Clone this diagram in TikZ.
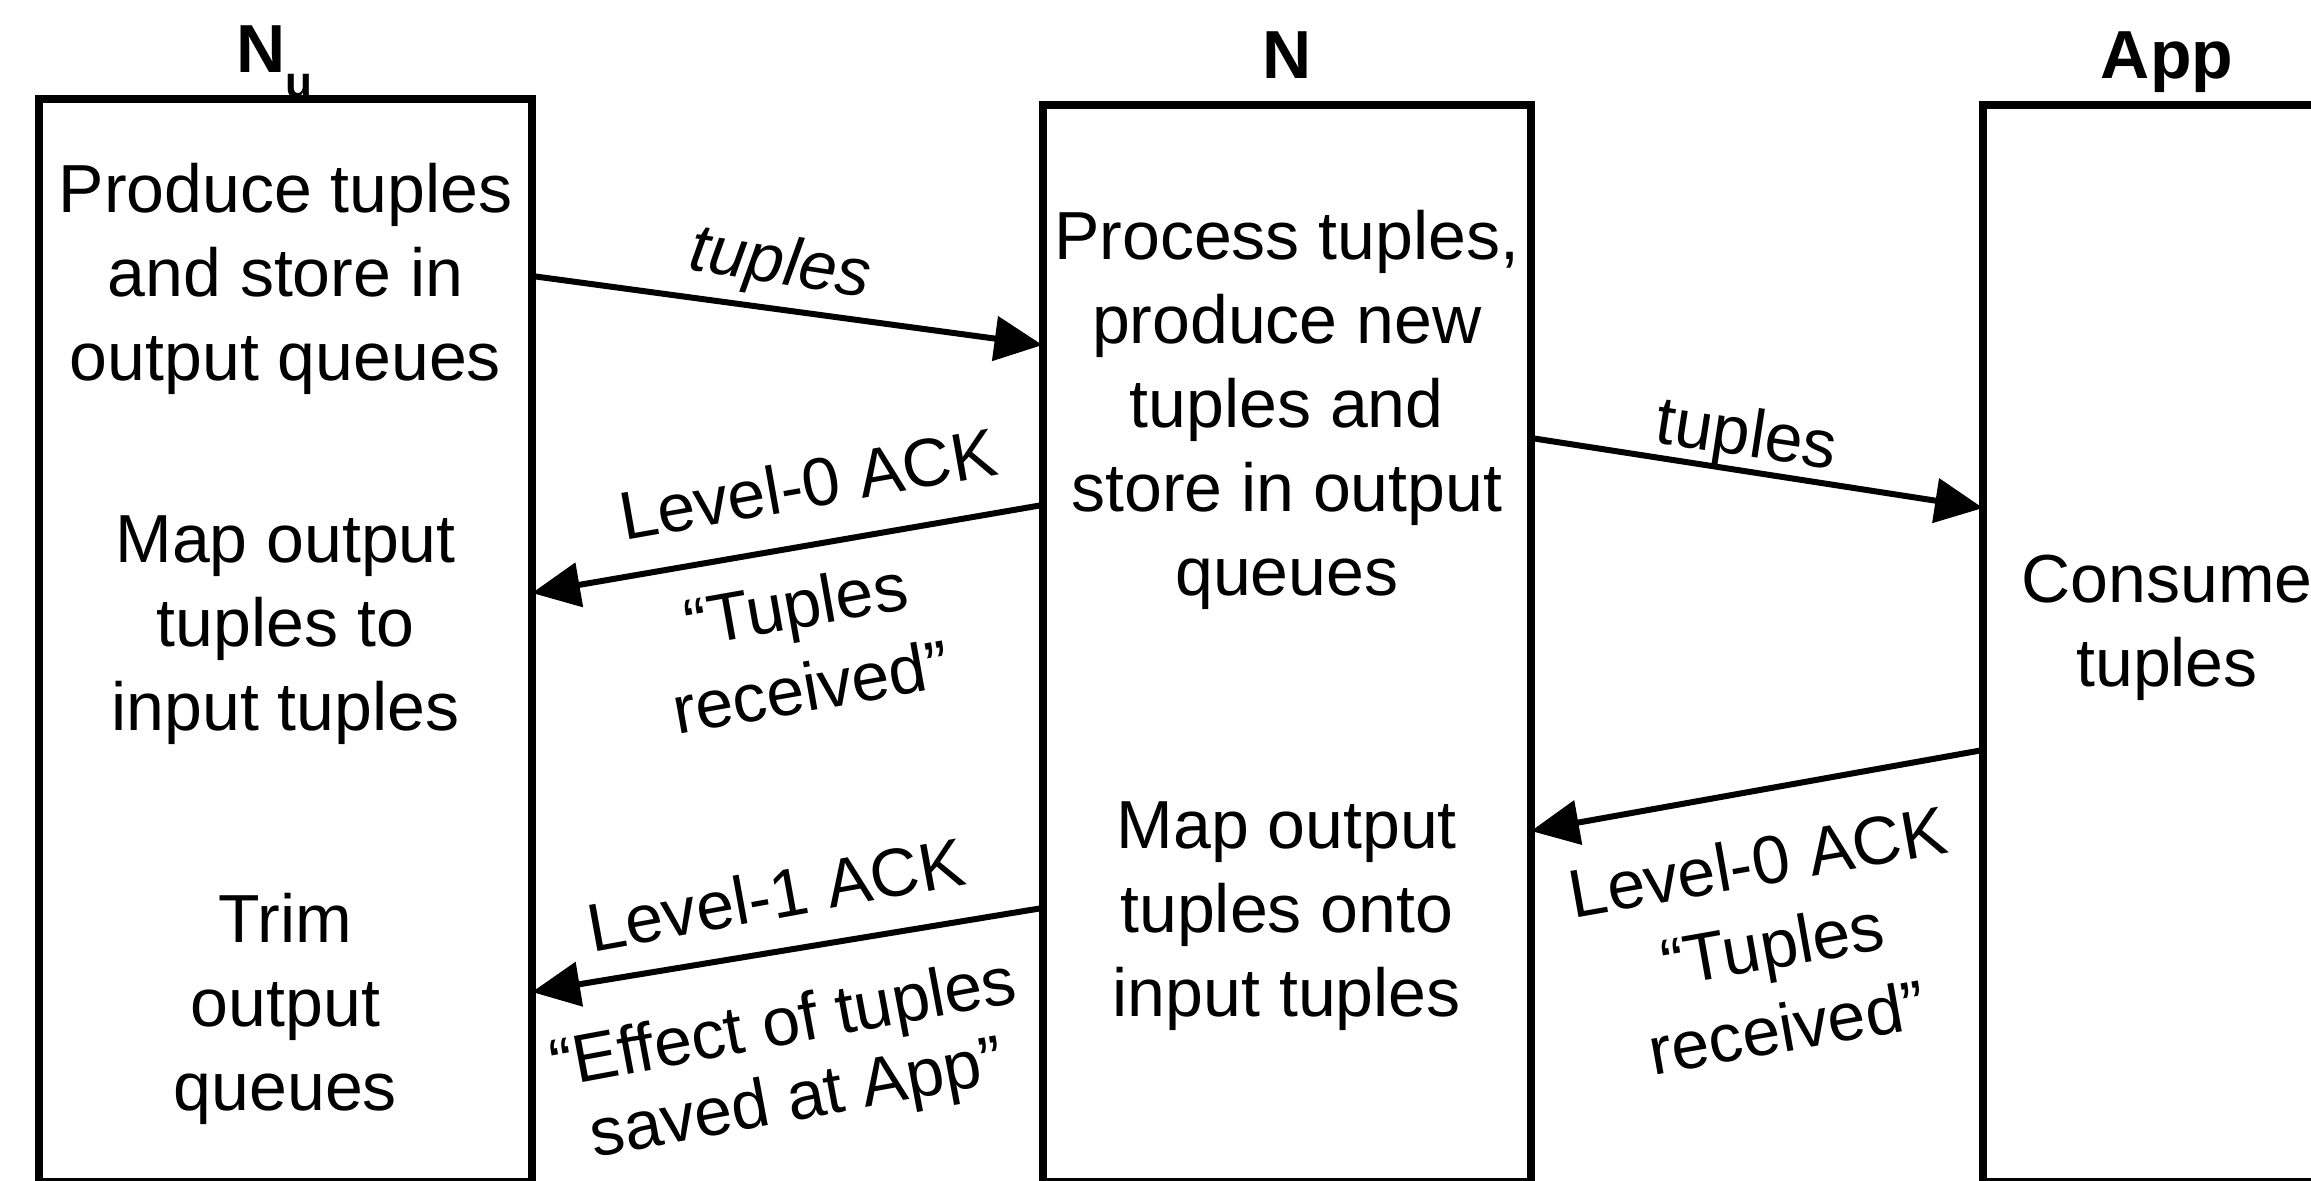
\documentclass[tikz,border=0pt]{standalone}
\usepackage{fontspec}
\setmainfont{Liberation Sans}
\usetikzlibrary{arrows.meta,calc}
\begin{document}
\begin{tikzpicture}[x=0.25pt,y=-0.25pt,
  box/.style={draw,line width=2pt,outer sep=0pt,inner sep=0pt,rectangle},
  body/.style={font=\fontsize{17}{21}\selectfont,align=center,inner sep=0pt,anchor=north},
  head/.style={font=\fontsize{17}{21}\selectfont\bfseries,inner sep=0pt,anchor=base},
  lbl/.style={font=\fontsize{17}{21}\selectfont,inner sep=0pt,anchor=base},
  itlbl/.style={lbl,font=\fontsize{17}{21}\selectfont\itshape},
  msg/.style={line width=1.5pt,-{Triangle[length=12pt,width=11pt]}}]

\useasboundingbox (0,0) rectangle (2311,1180);
\clip (0,0) rectangle (2311,1180);

% the three participants
\node[box,minimum width=123.25pt,minimum height=270.75pt] (nu) at (285.5,640) {};
\node[box,minimum width=122.125pt,minimum height=269.125pt] (n) at (1286.75,643.25) {};
\node[box,minimum width=92pt,minimum height=269.125pt] (app) at (2167,643.25) {};

% headings
\node[head] (tnu) at (274,72) {N\raisebox{-6.25pt}{\fontsize{11}{11}\selectfont u}};
\node[head] (tn) at (1287,78) {N};
\node[head] (tapp) at (2167,78) {App};

% activities inside each participant
\node[body] (nu1) at (285.5,153.2) {\strut Produce tuples\\and store in\\output queues};
\node[body] (nu2) at (285.5,503.2) {\strut Map output\\tuples to\\input tuples};
\node[body] (nu3) at (285.5,883.2) {\strut Trim\\output\\queues};
\node[body] (n1) at (1286.75,200.2) {\strut Process tuples,\\produce new\\tuples and\\store in output\\queues};
\node[body] (n2) at (1286.75,789.2) {\strut Map output\\tuples onto\\input tuples};
\node[body] (app1) at (2167,543.2) {\strut Consume\\tuples};

% message end points on the box borders
\coordinate (m1s) at ($(nu.north east)+(0,177.5)$);
\coordinate (m1e) at ($(n.north west)+(0,240)$);
\coordinate (m2s) at ($(n.north east)+(0,333)$);
\coordinate (m2e) at ($(app.north west)+(0,403)$);
\coordinate (m3s) at ($(n.north west)+(0,400)$);
\coordinate (m3e) at ($(nu.north east)+(0,494.5)$);
\coordinate (m4s) at ($(n.north west)+(0,803)$);
\coordinate (m4e) at ($(nu.north east)+(0,893.5)$);
\coordinate (m5s) at ($(app.north west)+(0,645)$);
\coordinate (m5e) at ($(n.north east)+(0,726)$);

% messages
\draw[msg] (m1s) -- (m1e);
\draw[msg] (m2s) -- (m2e);
\draw[msg] (m3s) -- (m3e);
\draw[msg] (m4s) -- (m4e);
\draw[msg] (m5s) -- (m5e);

% message labels
\node[itlbl,rotate=-8.8] (l1) at (777.5,283.5) {tuples};
\node[lbl,rotate=-8.7] (l2) at (1743.5,456) {tuples};
\node[lbl,rotate=10] (l3) at (812,507.5) {Level-0 ACK};
\node[body,rotate=10] (l4) at (789.8,569.1) {\strut “Tuples\\received”};
\node[lbl,rotate=10.3] (l5) at (780,918) {Level-1 ACK};
\node[body,font=\fontsize{17}{19}\selectfont,rotate=10.5] (l6) at (777.3,991.7) {\strut “Effect of tuples\\saved at App”};
\node[body,rotate=10] (l7) at (1751.5,826.7) {\strut Level-0 ACK\\“Tuples\\received”};
\end{tikzpicture}
\end{document}
